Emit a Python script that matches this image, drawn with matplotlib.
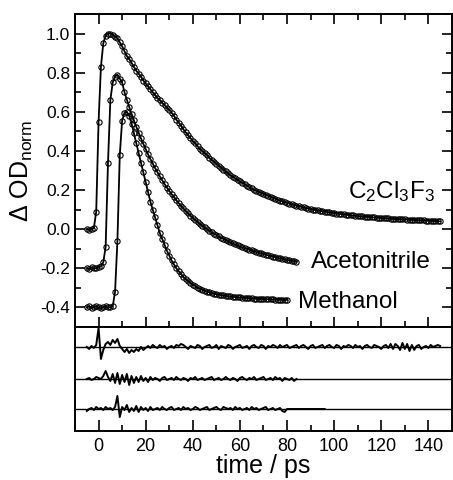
import numpy as np
import matplotlib
matplotlib.use("Agg")
from matplotlib import pyplot as plt
from matplotlib.ticker import MultipleLocator

plt.rcParams['font.family'] = ['Liberation Sans', 'DejaVu Sans']
plt.rcParams['mathtext.default'] = 'regular'
plt.rcParams['axes.unicode_minus'] = False

# normalized transients, 1 ps sampling, traces offset by 0 / -0.2 / -0.4
t_c2 = np.arange(-5, 146)
od_c2 = [
    0.0, -0.005, 0.0, 0.005, 0.09, 0.55, 0.83, 0.95, 0.99, 1.0,
    1.0, 0.995, 0.985, 0.975, 0.955, 0.935, 0.91, 0.885, 0.87, 0.85,
    0.83, 0.81, 0.795, 0.78, 0.76, 0.745, 0.73, 0.715, 0.70, 0.685,
    0.67, 0.66, 0.645, 0.635, 0.62, 0.61, 0.595, 0.58, 0.56, 0.545,
    0.53, 0.51, 0.495, 0.48, 0.465, 0.45, 0.44, 0.425, 0.41, 0.40,
    0.39, 0.38, 0.365, 0.355, 0.345, 0.335, 0.325, 0.315, 0.305, 0.295,
    0.285, 0.275, 0.268, 0.26, 0.252, 0.245, 0.238, 0.23, 0.222, 0.215,
    0.208, 0.20, 0.195, 0.19, 0.185, 0.18, 0.175, 0.17, 0.165, 0.16,
    0.155, 0.15, 0.146, 0.142, 0.138, 0.135, 0.131, 0.128, 0.124, 0.12,
    0.117, 0.114, 0.111, 0.108, 0.105, 0.103, 0.10, 0.098, 0.096, 0.094,
    0.092, 0.09, 0.088, 0.086, 0.084, 0.082, 0.08, 0.079, 0.077, 0.076,
    0.074, 0.073, 0.071, 0.07, 0.068, 0.067, 0.066, 0.065, 0.064, 0.063,
    0.062, 0.061, 0.06, 0.059, 0.058, 0.057, 0.056, 0.056, 0.055, 0.054,
    0.053, 0.052, 0.052, 0.051, 0.05, 0.05, 0.049, 0.048, 0.048, 0.047,
    0.046, 0.046, 0.045, 0.045, 0.044, 0.044, 0.043, 0.042, 0.042, 0.041,
    0.04,
]

t_acn = np.arange(-5, 85)
od_acn = [
    -0.20, -0.205, -0.195, -0.20, -0.20, -0.195, -0.19, -0.17, -0.09, 0.34,
    0.66, 0.75, 0.78, 0.79, 0.77, 0.75, 0.70, 0.662, 0.625, 0.59,
    0.556, 0.524, 0.493, 0.464, 0.436, 0.409, 0.383, 0.358, 0.335, 0.312,
    0.291, 0.27, 0.25, 0.231, 0.213, 0.195, 0.179, 0.163, 0.148, 0.133,
    0.119, 0.106, 0.093, 0.081, 0.069, 0.058, 0.047, 0.037, 0.027, 0.018,
    0.009, 0.0, -0.008, -0.016, -0.023, -0.03, -0.037, -0.044, -0.05, -0.056,
    -0.062, -0.068, -0.073, -0.078, -0.083, -0.088, -0.093, -0.097, -0.101, -0.105,
    -0.109, -0.113, -0.117, -0.12, -0.124, -0.127, -0.13, -0.134, -0.137, -0.14,
    -0.143, -0.146, -0.149, -0.152, -0.155, -0.157, -0.16, -0.162, -0.164, -0.166,
]

t_meoh = np.arange(-5, 81)
od_meoh = [
    -0.40, -0.395, -0.405, -0.40, -0.395, -0.40, -0.405, -0.40, -0.395, -0.40,
    -0.40, -0.395, -0.32, -0.06, 0.38, 0.555, 0.595, 0.60, 0.58, 0.54,
    0.49, 0.44, 0.39, 0.34, 0.29, 0.24, 0.19, 0.14, 0.10, 0.06,
    0.02, -0.02, -0.05, -0.08, -0.11, -0.135, -0.16, -0.18, -0.20, -0.215,
    -0.23, -0.245, -0.255, -0.265, -0.275, -0.285, -0.29, -0.30, -0.305, -0.31,
    -0.315, -0.32, -0.323, -0.327, -0.33, -0.333, -0.335, -0.337, -0.339, -0.341,
    -0.343, -0.344, -0.346, -0.347, -0.348, -0.349, -0.35, -0.351, -0.352, -0.353,
    -0.354, -0.355, -0.355, -0.356, -0.357, -0.357, -0.358, -0.358, -0.359, -0.359,
    -0.36, -0.36, -0.36, -0.361, -0.361, -0.362,
]

# fit residuals (x0.01), same time grids
res_c2 = [
    0, -2, 1, -1, 2, 19, -12, -3, 3, 5,
    2, 7, 4, 8, 1, -2, -5, -2, -6, -3,
    -5, -2, -4, 0, -3, -1, 1, -1, 2, 0,
    -1, 2, 0, 1, -2, 0, 1, -1, 2, 1,
    3, 2, 0, -2, 1, 0, -1, 2, 1, -2,
    0, 1, 2, -1, 0, 2, -2, 1, 0, -1,
    2, 1, -2, 0, 1, 2, -1, 0, 1, -2,
    1, 2, 0, -1, 2, 1, -2, 1, 0, 2,
    1, -1, 2, 0, 1, 2, -1, 0, 1, 2,
    -1, 1, 2, 0, -2, 1, 2, -1, 0, 1,
    2, -1, 1, 2, 0, -1, 2, 1, -2, 1,
    0, 2, 1, -1, 2, 0, 1, -2, 1, 2,
    0, -1, 2, 1, 0, -2, 1, 2, -1, 3,
    -2, 3, 1, -3, 4, -2, 3, -4, 2, -3,
    1, 2, -2, 0, 1, -1, 2, 0, 1, 2,
    1,
]
res_acn = [
    0, 1, -1, 0, 2, 1, 0, 3, 8, 2,
    -2, 5, -4, 6, -5, 4, -3, 5, -6, 3,
    -4, 2, -3, 3, -2, 1, -3, 2, -1, 1,
    0, -2, 1, 2, -1, 0, 1, -1, 2, 0,
    -1, 1, 0, -2, 1, 0, 2, -1, 0, 1,
    -1, 0, 1, 2, -1, 0, 1, -1, 0, 2,
    0, -1, 1, 0, -2, 1, 2, 0, -1, 1,
    0, 2, -1, 0, 1, 2, -1, 0, 1, -1,
    2, 0, 1, -2, 1, 0, -1, 1, -2, 0,
]
t_res_meoh = np.arange(-5, 97)
res_meoh = [
    -2, 0, 1, -1, 2, 0, 1, -1, 2, 0,
    1, -1, 2, 13, -8, 2, -1, 4, -3, 1,
    -2, 3, -3, 2, -1, 1, -2, 2, -1, 0,
    1, -1, 2, 0, -1, 1, 2, -1, 0, 1,
    -1, 2, 0, 1, -1, 0, 2, 1, -1, 0,
    1, 2, -1, 0, 1, 2, 0, -1, 2, 1,
    0, 1, -1, 2, 0, 1, -1, 0, 1, -1,
    2, 0, 1, -1, 0, 1, 2, -1, 0, 1,
    -1, 0, 1, -2, -3, 0, 0, 0, 0, 0,
    0, 0, 0, 0, 0, 0, 0, 0, 0, 0,
    0, 0,
]
res_offsets = [0.32, 0.0, -0.30]

fig = plt.figure(figsize=(4.53, 4.80), dpi=100)
ax = fig.add_axes([0.1656, 0.3188, 0.832, 0.652])
axr = fig.add_axes([0.1656, 0.1021, 0.832, 0.2167], sharex=ax)

for t, od in [(t_c2, od_c2), (t_acn, od_acn), (t_meoh, od_meoh)]:
    ax.plot(t, od, '-', color='black', lw=1.3, zorder=3)
    ax.plot(t, od, 'o', mfc='none', mec='black', mew=0.8, ms=3.8, zorder=2)

ax.text(106, 0.19, r'C$_2$Cl$_3$F$_3$', fontsize=17.5, va='center')
ax.text(90, -0.17, 'Acetonitrile', fontsize=17.5, va='center')
ax.text(84.5, -0.37, 'Methanol', fontsize=17.5, va='center')

ax.set_xlim(-10, 150)
ax.set_ylim(-0.5, 1.1)
ax.yaxis.set_major_locator(MultipleLocator(0.2))
ax.yaxis.set_minor_locator(MultipleLocator(0.1))
ax.xaxis.set_major_locator(MultipleLocator(20))
ax.xaxis.set_minor_locator(MultipleLocator(10))
ax.set_yticks([-0.4, -0.2, 0.0, 0.2, 0.4, 0.6, 0.8, 1.0])
ax.set_yticklabels(['-0.4', '-0.2', '0.0', '0.2', '0.4', '0.6', '0.8', '1.0'])
ax.set_ylabel(r'$\Delta$ OD$_{norm}$', fontsize=18, labelpad=4)
ax.tick_params(which='both', direction='in', top=True, right=True,
               labelbottom=False, labelsize=12.5, width=1.2)
ax.tick_params(which='major', length=7)
ax.tick_params(which='minor', length=4)

for off, t, r in [(res_offsets[0], t_c2, res_c2),
                  (res_offsets[1], t_acn, res_acn),
                  (res_offsets[2], t_res_meoh, res_meoh)]:
    axr.axhline(off, color='black', lw=1.0)
    axr.plot(t, off + np.array(r) * 0.01, color='black', lw=1.4)

axr.set_ylim(-0.52, 0.52)
axr.set_yticks([])
axr.set_xticks([0, 20, 40, 60, 80, 100, 120, 140])
axr.tick_params(which='both', direction='in', labelsize=13, width=1.2, pad=5)
axr.tick_params(which='major', length=8)
axr.tick_params(which='minor', length=4)
axr.set_xlabel('time / ps', fontsize=18, labelpad=-1)

for a in (ax, axr):
    for s in a.spines.values():
        s.set_linewidth(1.4)

fig.savefig('out.png', dpi=100)
